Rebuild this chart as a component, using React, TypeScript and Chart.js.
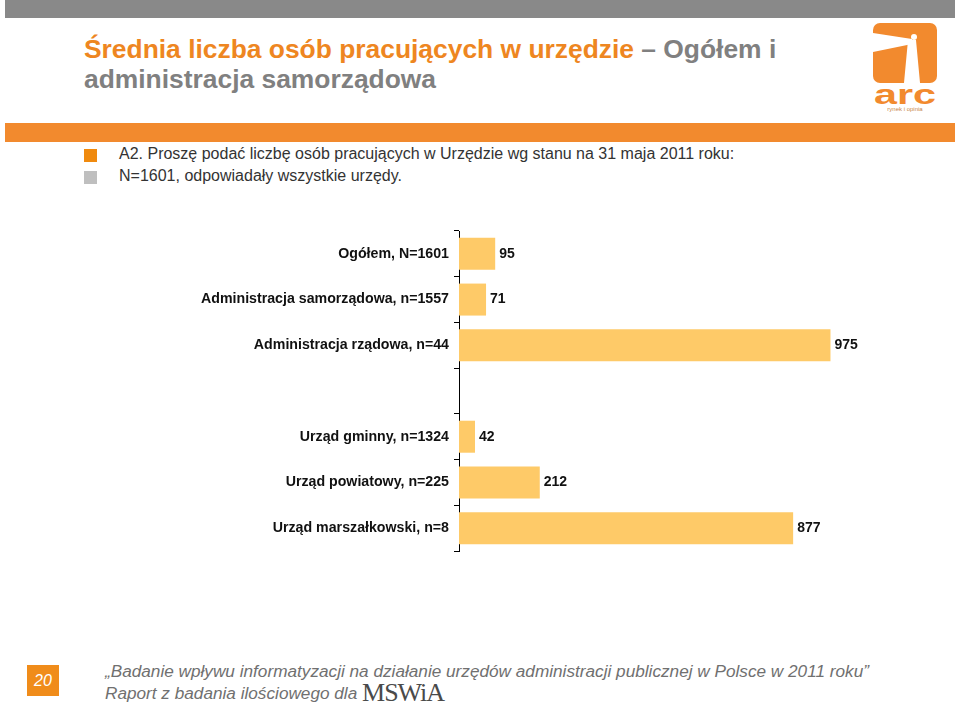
import React, { useEffect, useRef } from "react";
import { Chart, registerables } from "chart.js";

Chart.register(...registerables);

const categories: string[] = [
  "Ogółem, N=1601",
  "Administracja samorządowa, n=1557",
  "Administracja rządowa, n=44",
  "",
  "Urząd gminny, n=1324",
  "Urząd powiatowy, n=225",
  "Urząd marszałkowski, n=8",
];
const values: (number | null)[] = [95, 71, 975, null, 42, 212, 877];
const valueLabels: string[] = ["95", "71", "975", "", "42", "212", "877"];
const xMin = 0;
const xMax = 1000;

const FONT = "'Liberation Sans', Arial, Helvetica, sans-serif";

const valueLabelPlugin = {
  id: "valueLabels",
  afterDatasetsDraw(chart: any) {
    const ctx = chart.ctx;
    const meta = chart.getDatasetMeta(0);
    ctx.save();
    ctx.font = `bold 14px ${FONT}`;
    ctx.fillStyle = "#111";
    ctx.textAlign = "left";
    ctx.textBaseline = "middle";
    meta.data.forEach((bar: any, i: number) => {
      const v = values[i];
      if (v === null || v === undefined) return;
      ctx.fillText(valueLabels[i], bar.x + 4, bar.y);
    });
    ctx.restore();
  },
};

function BarChart() {
  const ref = useRef<HTMLCanvasElement | null>(null);
  useEffect(() => {
    if (!ref.current) return;
    const chart = new Chart(ref.current, {
      type: "bar",
      data: {
        labels: categories,
        datasets: [
          {
            data: values as any,
            backgroundColor: "#FECA68",
            borderWidth: 0,
            barPercentage: 0.7,
            categoryPercentage: 1,
          },
        ],
      },
      options: {
        indexAxis: "y",
        animation: false,
        responsive: false,
        maintainAspectRatio: false,
        layout: { padding: { top: 9, right: 40, bottom: 11, left: 0 } },
        plugins: {
          legend: { display: false },
          tooltip: { enabled: false },
        },
        scales: {
          x: { display: false, min: xMin, max: xMax },
          y: {
            afterFit: (s: any) => {
              s.width = 279;
              s.paddingTop = 0;
              s.paddingBottom = 0;
            },
            grid: {
              drawOnChartArea: false,
              drawTicks: true,
              tickLength: 5,
              color: "#000",
              tickColor: "#000",
              offset: true,
            },
            border: { display: true, color: "#000", width: 1 },
            ticks: {
              padding: 5,
              color: "#111",
              font: { family: FONT, size: 14.2, weight: "bold" },
            },
          },
        },
      },
      plugins: [valueLabelPlugin],
    });
    return () => chart.destroy();
  }, []);
  return (
    <canvas
      ref={ref}
      width={700}
      height={340}
      style={{ position: "absolute", left: 180, top: 222, width: 700, height: 340 }}
    />
  );
}

function Logo() {
  return (
    <svg
      width={80}
      height={95}
      style={{ position: "absolute", left: 868, top: 18 }}
      viewBox="0 0 80 95"
    >
      <rect x={5} y={5} width={64} height={60} rx={7} fill="#F28A2E" />
      <polygon points="5,15 44,21 44,26 5,34" fill="#fff" />
      <polygon points="40,22 48,22 52,65 36,65" fill="#fff" />
      <circle cx={46} cy={19} r={3} fill="#fff" />
      <text
        x={37}
        y={86}
        textAnchor="middle"
        fontFamily={FONT}
        fontSize={27}
        fontWeight="bold"
        fill="#F28A2E"
        textLength={62}
        lengthAdjust="spacingAndGlyphs"
      >
        arc
      </text>
      <text x={37} y={93} textAnchor="middle" fontFamily={FONT} fontSize={6} fill="#C8874A">
        rynek i opinia
      </text>
    </svg>
  );
}

export default function App() {
  useEffect(() => {
    document.body.style.margin = "0";
  }, []);
  return (
    <div
      style={{
        position: "absolute",
        left: 0,
        top: 0,
        width: 960,
        height: 706,
        background: "#fff",
        fontFamily: FONT,
        overflow: "hidden",
      }}
    >
      <div style={{ position: "absolute", left: 5, top: 0, width: 950, height: 18, background: "#898989" }} />
      <div
        style={{
          position: "absolute",
          left: 84,
          top: 34,
          fontSize: 26.4,
          lineHeight: "30px",
          fontWeight: "bold",
          color: "#808080",
          whiteSpace: "nowrap",
        }}
      >
        <span style={{ color: "#EE8621" }}>Średnia liczba osób pracujących w urzędzie</span>
        <span> – Ogółem i</span>
        <br />
        administracja samorządowa
      </div>
      <Logo />
      <div style={{ position: "absolute", left: 5, top: 123, width: 950, height: 19, background: "#F28A2E" }} />
      <div style={{ position: "absolute", left: 84, top: 149, width: 13, height: 13, background: "#F08A0E" }} />
      <div style={{ position: "absolute", left: 84, top: 171, width: 13, height: 13, background: "#BFBFBF" }} />
      <div
        style={{
          position: "absolute",
          left: 119,
          top: 143,
          fontSize: 16,
          lineHeight: "22px",
          color: "#333",
          whiteSpace: "nowrap",
        }}
      >
        A2. Proszę podać liczbę osób pracujących w Urzędzie wg stanu na 31 maja 2011 roku:
        <br />
        N=1601, odpowiadały wszystkie urzędy.
      </div>
      <BarChart />
      <div
        style={{
          position: "absolute",
          left: 27,
          top: 665,
          width: 32,
          height: 31,
          background: "#F08C1A",
          color: "#fff",
          fontStyle: "italic",
          fontSize: 16,
          lineHeight: "31px",
          textAlign: "center",
        }}
      >
        20
      </div>
      <div
        style={{
          position: "absolute",
          left: 105,
          top: 662,
          fontSize: 17.2,
          lineHeight: "19px",
          fontStyle: "italic",
          color: "#707070",
          whiteSpace: "nowrap",
        }}
      >
        „Badanie wpływu informatyzacji na działanie urzędów administracji publicznej w Polsce w 2011 roku”
        <br />
        Raport z badania ilościowego dla{" "}
        <span
          style={{
            fontFamily: "'Liberation Serif', 'DejaVu Serif', serif",
            fontStyle: "normal",
            fontSize: 26,
            color: "#4A4A4A",
            letterSpacing: -1,
            position: "relative",
            top: 2,
          }}
        >
          MSWiA
        </span>
      </div>
    </div>
  );
}
